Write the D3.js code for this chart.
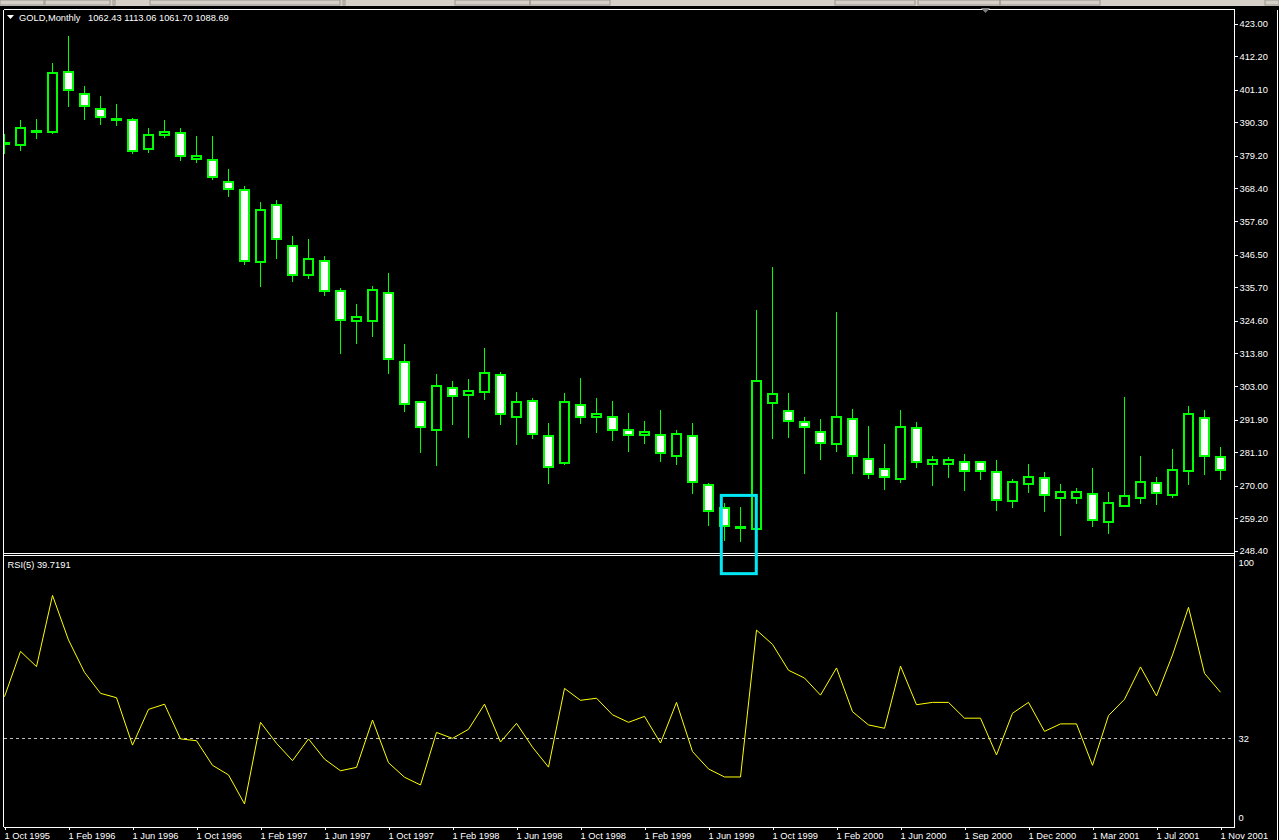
<!DOCTYPE html>
<html><head><meta charset="utf-8">
<script src="https://cdn.jsdelivr.net/npm/d3@7"></script>
<style>
html,body{margin:0;padding:0;background:#000;overflow:hidden}
svg{display:block}
text{font-family:"Liberation Sans",Arial,sans-serif;font-size:9.3px;fill:#fff}
</style></head><body>
<svg id="c" width="1279" height="840"></svg>
<script>
// ---- data ----
const opens  = [383.4,382.8,387.0,387.2,407.0,399.8,394.8,391.4,390.9,381.4,
                386.1,386.9,378.3,377.9,370.7,368.0,343.9,363.0,349.5,339.6,
                344.5,334.6,324.4,324.4,333.9,311.1,297.6,288.3,302.5,299.9,
                300.9,306.5,292.9,297.9,286.3,277.4,296.6,292.9,292.6,288.6,
                286.7,286.7,280.0,286.3,270.1,262.5,256.2,255.8,297.4,294.9,
                291.0,287.7,283.7,292.0,278.7,275.4,272.1,289.0,277.1,277.1,
                277.7,277.7,274.4,264.8,270.5,272.4,265.8,265.8,267.2,258.1,
                263.4,265.8,270.8,266.8,274.9,292.3,279.4];
const highs  = [386.3,390.9,391.3,409.8,418.7,402.2,398.9,396.5,391.6,388.3,
                390.9,388.3,385.6,385.6,375.0,369.1,363.9,364.5,352.6,351.8,
                346.0,335.4,330.1,336.0,340.3,316.9,298.0,306.9,304.6,305.3,
                315.5,307.6,301.0,299.0,290.7,300.6,305.6,299.0,298.0,294.0,
                291.4,295.0,288.4,290.7,270.9,264.3,263.0,328.1,342.3,300.6,
                292.7,292.1,327.4,295.4,289.7,283.8,295.0,291.1,279.8,279.4,
                280.5,278.2,278.5,272.2,277.2,274.4,270.5,269.1,275.8,267.8,
                299.3,279.7,272.8,282.1,296.3,295.0,282.8];
const lows   = [380.3,381.0,385.2,386.7,395.7,391.4,389.7,389.4,380.1,380.4,
                385.4,377.9,377.1,371.5,365.9,343.4,336.1,345.4,337.8,338.8,
                333.2,314.0,317.3,319.6,307.4,294.8,281.2,276.9,290.5,286.2,
                298.8,290.5,283.9,285.9,270.9,277.1,290.8,287.9,285.2,281.6,
                284.2,278.3,277.3,267.7,257.1,252.1,251.8,255.6,285.9,286.2,
                274.3,278.9,281.6,274.3,272.6,269.0,271.3,276.3,270.3,273.0,
                268.5,272.3,262.1,263.0,268.0,261.7,253.8,264.4,256.8,254.5,
                263.2,264.4,264.0,266.2,270.7,274.0,272.1];
const closes = [383.1,388.3,387.3,406.7,401.1,395.8,392.2,391.0,380.8,386.0,
                387.0,379.3,379.0,372.2,368.2,344.5,361.4,351.8,339.9,345.2,
                334.6,324.9,325.7,334.9,312.1,296.9,289.6,302.9,299.6,301.5,
                307.2,293.6,297.6,287.0,276.1,297.6,292.9,293.9,288.6,286.7,
                287.7,280.7,287.0,271.1,261.5,256.6,256.0,304.8,300.5,291.5,
                289.3,284.3,292.9,279.7,273.8,272.8,289.6,277.7,278.4,278.4,
                274.8,274.8,265.2,271.1,272.8,266.8,267.8,267.8,258.6,264.2,
                266.5,271.4,267.5,275.2,293.6,280.0,275.1];
const rsiValues = [48.0,65.5,59.6,87.1,69.9,57.4,49.3,47.6,29.3,43.1,
                   45.1,31.7,31.0,21.5,17.8,6.6,38.1,30.0,23.3,31.7,
                   23.9,19.4,20.7,39.0,22.5,16.9,13.9,34.2,31.9,35.4,
                   45.1,30.5,37.7,28.5,20.8,51.2,46.6,47.4,41.0,38.1,
                   40.4,30.1,45.8,26.8,20.1,17.0,17.0,73.7,68.2,58.2,
                   55.2,48.6,59.1,42.2,37.1,35.8,59.8,44.9,45.8,45.8,
                   39.7,39.7,25.5,41.6,45.8,34.6,37.5,37.5,21.5,40.7,
                   47.0,59.5,48.3,64.1,82.5,57.0,49.7];
const priceTicks = [423.00,412.20,401.10,390.30,379.20,368.40,357.60,346.50,335.70,
                    324.60,313.80,303.00,291.90,281.10,270.00,259.20,248.40];
const dateLabels = ["1 Oct 1995","1 Feb 1996","1 Jun 1996","1 Oct 1996","1 Feb 1997",
                    "1 Jun 1997","1 Oct 1997","1 Feb 1998","1 Jun 1998","1 Oct 1998",
                    "1 Feb 1999","1 Jun 1999","1 Oct 1999","1 Feb 2000","1 Jun 2000",
                    "1 Sep 2000","1 Dec 2000","1 Mar 2001","1 Jul 2001","1 Nov 2001"];
const rsiTicks = [100, 32, 0];
const rsiLevel = 32;
const chartTitle = "GOLD,Monthly";
const lastBar = ["1062.43","1113.06","1061.70","1088.69"];
const rsiTitle = "RSI(5) 39.7191";
const markedBars = [45, 47];   // bars spanned by the cyan box
const boxTopPrice = 266.8;     // top edge of the box, in price units
const boxBottomRsi = 95.5;     // bottom edge of the box, in RSI units

// ---- layout ----
const svg = d3.select("#c");
const L = 3.5, R = 1234.5, T = 9.5, MB = 553.5, RT = 555.5, B = 826.5;
const n = opens.length;
const x = d3.scaleLinear().domain([0, n - 1]).range([4.5, 4.5 + 16 * (n - 1)]);
const y = d3.scaleLinear().domain([248.4, 423]).range([551, 23.5]);
const r = d3.scaleLinear().domain([0, 100]).range([821, 562]);

svg.append("rect").attr("width",1279).attr("height",840).attr("fill","#000");

// toolbar strip at top
const tb = svg.append("g");
tb.append("rect").attr("x",0).attr("y",0).attr("width",1279).attr("height",6).attr("fill","#d4d0c8");
[[0,44],[45,110],[113,115],[150,340],[343,345],[455,530],[530,610],[835,915],[918,1000],[1000,1100],[1265,1279]].forEach(([a,b])=>{
  tb.append("rect").attr("x",a).attr("y",0).attr("width",b-a).attr("height",5).attr("fill","none").attr("stroke","#9a968e").attr("stroke-width",1);
});

const defs = svg.append("defs");
defs.append("clipPath").attr("id","mainClip").append("rect").attr("x",4).attr("y",10).attr("width",R-4).attr("height",MB-10);
defs.append("clipPath").attr("id","rsiClip").append("rect").attr("x",4).attr("y",RT+0.5).attr("width",R-4).attr("height",B-RT-1);

// frames
const fr = svg.append("g").attr("stroke","#fff").attr("stroke-width",1).attr("fill","none").attr("shape-rendering","crispEdges");
fr.append("line").attr("x1",L).attr("x2",R).attr("y1",T).attr("y2",T);
fr.append("line").attr("x1",L).attr("x2",L).attr("y1",T).attr("y2",B);
fr.append("line").attr("x1",L).attr("x2",R).attr("y1",MB).attr("y2",MB);
fr.append("line").attr("x1",L).attr("x2",R).attr("y1",RT).attr("y2",RT);
fr.append("line").attr("x1",1277.5).attr("x2",1277.5).attr("y1",T).attr("y2",840);

// chart shift marker
svg.append("path").attr("d","M981,8 L990,8 L985.5,13 Z").attr("fill","#808080");

// candles
const cg = svg.append("g").attr("clip-path","url(#mainClip)").attr("shape-rendering","crispEdges");
const bars = d3.range(n);
cg.selectAll("line.wick").data(bars).join("line").attr("class","wick")
  .attr("x1",i=>x(i)).attr("x2",i=>x(i))
  .attr("y1",i=>Math.round(y(highs[i]))).attr("y2",i=>Math.round(y(lows[i]))+1)
  .attr("stroke","#00ff00").attr("stroke-width",1);
cg.selectAll("rect.body").data(bars).join("rect").attr("class","body")
  .attr("x",i=>x(i)-4.5).attr("width",9)
  .attr("y",i=>Math.round(y(Math.max(opens[i],closes[i]))))
  .attr("height",i=>Math.max(0,Math.round(y(Math.min(opens[i],closes[i])))-Math.round(y(Math.max(opens[i],closes[i])))))
  .attr("fill",i=>closes[i]<opens[i]?"#ffffff":"#000000")
  .attr("stroke","#00ff00").attr("stroke-width",2);

// price axis
const ya = svg.append("g").attr("transform",`translate(${R},0)`)
  .call(d3.axisRight(y).tickValues(priceTicks).tickSize(3).tickPadding(2).tickFormat(d3.format(".2f")));
ya.select(".domain").remove();
ya.selectAll(".tick line").attr("stroke","#fff").attr("shape-rendering","crispEdges");
ya.selectAll(".tick text").attr("fill","#fff").style("font-family","Liberation Sans").style("font-size","9.3px");
svg.append("line").attr("x1",R).attr("x2",R).attr("y1",T).attr("y2",B).attr("stroke","#fff").attr("shape-rendering","crispEdges");

// titles
svg.append("path").attr("d","M7,15 L14,15 L10.5,19 Z").attr("fill","#fff");
svg.append("text").attr("x",19).attr("y",20.5).text(chartTitle);
svg.append("text").attr("x",88).attr("y",20.5).text(lastBar.join(" "));
svg.append("text").attr("x",7.5).attr("y",568).text(rsiTitle);

// RSI pane
const rg = svg.append("g").attr("clip-path","url(#rsiClip)");
rg.append("line").attr("x1",4).attr("x2",R).attr("y1",Math.round(r(rsiLevel))+0.5).attr("y2",Math.round(r(rsiLevel))+0.5)
  .attr("stroke","#c0c0c0").attr("stroke-dasharray","3,3").attr("shape-rendering","crispEdges");
rg.append("path").datum(rsiValues)
  .attr("d",d3.line().x((d,i)=>x(i)).y(d=>r(d)))
  .attr("fill","none").attr("stroke","#ffff00").attr("stroke-width",1);

const ra = svg.append("g").attr("transform",`translate(${R},0)`)
  .call(d3.axisRight(r).tickValues(rsiTicks).tickSize(0).tickPadding(4).tickFormat(d3.format("d")));
ra.select(".domain").remove();
ra.selectAll(".tick text").attr("fill","#fff").style("font-family","Liberation Sans").style("font-size","9.3px")
  .attr("dy",d=>d===0?"-0.05em":d===100?"0.4em":"0.32em");

// date axis
const xa = svg.append("g").attr("transform",`translate(0,${B})`)
  .call(d3.axisBottom(x).tickValues(d3.range(0,n,4)).tickSize(3).tickPadding(0).tickFormat((d,i)=>dateLabels[i]));
xa.select(".domain").attr("stroke","#fff").attr("d",`M${L},0.5H${R}`).attr("shape-rendering","crispEdges");
xa.selectAll(".tick line").attr("stroke","#fff").attr("shape-rendering","crispEdges");
xa.selectAll(".tick text").attr("fill","#fff").attr("text-anchor","start").attr("x",-0.5).attr("y",12.5).attr("dy",0)
  .style("font-family","Liberation Sans").style("font-size","9.3px");

// cyan highlight box around the marked bars (spans into the RSI pane)
const bx0 = x(markedBars[0]) - 3.2, bx1 = x(markedBars[1]) - 0.2;
const by0 = y(boxTopPrice), by1 = r(boxBottomRsi);
svg.append("rect")
  .attr("x",bx0).attr("width",bx1-bx0)
  .attr("y",by0).attr("height",by1-by0)
  .attr("fill","none").attr("stroke","#00e8f4").attr("stroke-width",3);
</script>
</body></html>
